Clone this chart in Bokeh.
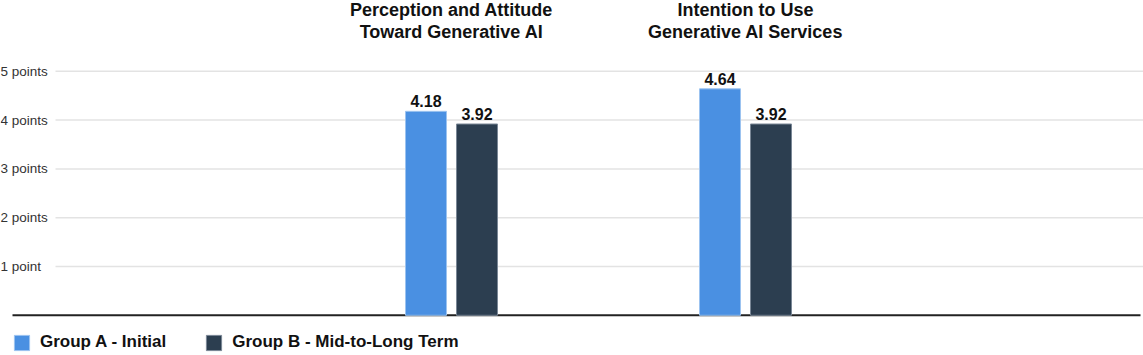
import numpy as np
from bokeh.plotting import figure
from bokeh.models import ColumnDataSource, Range1d, Legend, LegendItem
from bokeh.transform import dodge
from bokeh.core.properties import value
from bokeh.embed import file_html
from bokeh.resources import INLINE

# ---- data ----
categories = ["Perception and Attitude\nToward Generative AI",
              "Intention to Use\nGenerative AI Services"]
group_a = [4.18, 4.64]
group_b = [3.92, 3.92]
series_names = ["Group A - Initial", "Group B - Mid-to-Long Term"]
tick_values = [1, 2, 3, 4, 5]
tick_labels = ["1 point", "2 points", "3 points", "4 points", "5 points"]

# ---- styles ----
FONT = "Liberation Sans"
COL_A = "#4a90e2"
COL_B = "#2c3e50"
W, H = 1143, 355
PX_X = 294.0          # pixels per category step
PX_Y = 48.8           # pixels per point
CX0 = 451.0           # pixel centre of first category
Y0 = 314.8            # pixel of zero baseline (from top)

x_start = -CX0 / PX_X
x_end = (W - CX0) / PX_X
y_end = Y0 / PX_Y
y_start = -(H - Y0) / PX_Y
off = 25.5 / PX_X
bw = 41.0 / PX_X

src = ColumnDataSource(dict(
    x=np.arange(len(categories)),
    cat=categories,
    a=group_a, b=group_b,
    a_lab=[f"{v:.2f}" for v in group_a],
    b_lab=[f"{v:.2f}" for v in group_b],
))

p = figure(width=W, height=H, output_backend="svg", toolbar_location=None,
           x_range=Range1d(x_start, x_end), y_range=Range1d(y_start, y_end),
           min_border=0, min_border_left=0, min_border_right=0,
           min_border_top=0, min_border_bottom=0)
p.xaxis.visible = False
p.yaxis.visible = False
p.grid.visible = False
p.outline_line_color = None
p.background_fill_color = "white"

# gridlines
gsrc = ColumnDataSource(dict(y=tick_values, lab=tick_labels,
                             x0=[(55 - CX0) / PX_X] * len(tick_values),
                             x1=[x_end] * len(tick_values),
                             xl=[x_start] * len(tick_values)))
p.segment(x0="x0", x1="x1", y0="y", y1="y", source=gsrc,
          line_color="#e3e3e3", line_width=1.5)
p.text(x="xl", y="y", text="lab", source=gsrc, text_font=value(FONT),
       text_font_size="13.5px", text_color="#333333",
       text_align="left", text_baseline="middle", x_offset=0)

# baseline
p.segment(x0=[(12 - CX0) / PX_X], x1=[(1140 - CX0) / PX_X], y0=[0], y1=[0],
          line_color="#222222", line_width=2)

ra = p.vbar(x=dodge("x", -off), top="a", width=bw, source=src,
            fill_color=COL_A, line_color="#9cc3f0", line_width=1)
rb = p.vbar(x=dodge("x", off), top="b", width=bw, source=src,
            fill_color=COL_B, line_color="#7a8796", line_width=1)

lab_kw = dict(text_font=value(FONT), text_font_size="16px",
              text_font_style="bold", text_color="#111111",
              text_align="center", text_baseline="alphabetic", y_offset=-10)
p.text(x=dodge("x", -off), y="a", text="a_lab", source=src, **lab_kw)
p.text(x=dodge("x", off), y="b", text="b_lab", source=src, **lab_kw)

# category titles
tsrc = ColumnDataSource(dict(x=np.arange(len(categories)),
                             y=[y_end] * len(categories), t=categories))
p.text(x="x", y="y", text="t", source=tsrc, text_font=value(FONT),
       text_font_size="18px", text_font_style="bold", text_color="#111111",
       text_align="center", text_baseline="top", y_offset=-1,
       text_line_height=1.1)

legend = Legend(items=[LegendItem(label=series_names[0], renderers=[ra]),
                       LegendItem(label=series_names[1], renderers=[rb])],
                orientation="horizontal", location=(12, 3),
                label_text_font=FONT, label_text_font_size="17px",
                label_text_font_style="bold", label_text_color="#111111",
                glyph_width=19, glyph_height=19, label_standoff=9,
                spacing=38, padding=0, margin=0,
                border_line_color=None, background_fill_alpha=0)
p.add_layout(legend)

open("out.html", "w").write(file_html(p, INLINE))
